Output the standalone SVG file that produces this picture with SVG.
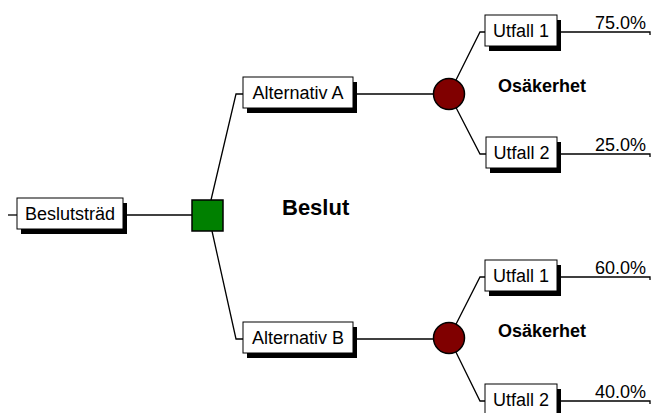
<svg xmlns="http://www.w3.org/2000/svg" width="651" height="413" viewBox="0 0 651 413">
<style>
.box{fill:#fff;stroke:#000;stroke-width:1}
.sh{fill:#000}
.lbl{font-family:"Liberation Sans",Arial,sans-serif;font-size:18px;fill:#000;text-anchor:middle}
.pct{font-family:"Liberation Sans",Arial,sans-serif;font-size:18px;fill:#000;text-anchor:end}
.bold{font-family:"Liberation Sans",Arial,sans-serif;font-weight:bold;fill:#000}
.ln{fill:none;stroke:#000;stroke-width:1.3}
</style>
<rect width="651" height="413" fill="#fff"/>
<g id="connectors">
<path class="ln" d="M8,215 H17"/>
<path class="ln" d="M123,215 H192"/>
<path class="ln" d="M211,200 L236,94 H243"/>
<path class="ln" d="M212,231 L236,339 H243"/>
<path class="ln" d="M353,94 H449"/>
<path class="ln" d="M353,339 H449"/>
<path class="ln" d="M449,94 L480,32 H485"/>
<path class="ln" d="M449,94 L480,154 H486"/>
<path class="ln" d="M449,338 L480,277 H485"/>
<path class="ln" d="M449,338 L480,401 H485"/>
<path class="ln" d="M557,32 H650 V35"/>
<path class="ln" d="M557,154 H650 V157"/>
<path class="ln" d="M557,277 H650 V280"/>
<path class="ln" d="M557,401 H650 V404"/>
</g>
<g id="root">
<rect class="sh" x="21" y="203" width="106" height="31"/>
<rect class="box" x="17" y="198" width="106" height="31"/>
<text class="lbl" x="70" y="220">Beslutsträd</text>
</g>
<g id="decision">
<rect x="192" y="200" width="31" height="31" fill="#008000" stroke="#000" stroke-width="1.5"/>
</g>
<text class="bold" x="282" y="215" font-size="22">Beslut</text>
<g id="altA">
<rect class="sh" x="247" y="82" width="110" height="31"/>
<rect class="box" x="243" y="77" width="110" height="31"/>
<text class="lbl" x="298" y="99">Alternativ A</text>
</g>
<g id="altB">
<rect class="sh" x="247" y="327" width="110" height="31"/>
<rect class="box" x="243" y="322" width="110" height="31"/>
<text class="lbl" x="298" y="344">Alternativ B</text>
</g>
<g id="chanceA">
<circle cx="449" cy="94" r="15.5" fill="#800000" stroke="#000" stroke-width="1.5"/>
</g>
<g id="chanceB">
<circle cx="449" cy="338" r="15.5" fill="#800000" stroke="#000" stroke-width="1.5"/>
</g>
<text class="bold" x="498" y="92" font-size="18">Osäkerhet</text>
<text class="bold" x="498" y="337" font-size="18">Osäkerhet</text>
<g id="outA1">
<rect class="sh" x="489" y="20" width="72" height="31"/>
<rect class="box" x="485" y="15" width="72" height="31"/>
<text class="lbl" x="521" y="37">Utfall 1</text>
<text class="pct" x="646" y="28.5">75.0%</text>
</g>
<g id="outA2">
<rect class="sh" x="490" y="142" width="71" height="31"/>
<rect class="box" x="486" y="137" width="71" height="31"/>
<text class="lbl" x="521.5" y="159">Utfall 2</text>
<text class="pct" x="646" y="150.5">25.0%</text>
</g>
<g id="outB1">
<rect class="sh" x="489" y="265" width="72" height="31"/>
<rect class="box" x="485" y="260" width="72" height="31"/>
<text class="lbl" x="521" y="282">Utfall 1</text>
<text class="pct" x="646" y="273.5">60.0%</text>
</g>
<g id="outB2">
<rect class="sh" x="489" y="389" width="72" height="31"/>
<rect class="box" x="485" y="384" width="72" height="31"/>
<text class="lbl" x="521" y="406">Utfall 2</text>
<text class="pct" x="646" y="397.5">40.0%</text>
</g>
</svg>
